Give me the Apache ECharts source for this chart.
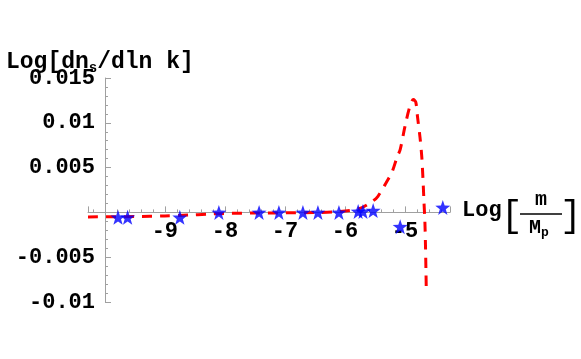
<!DOCTYPE html>
<html>
<head>
<meta charset="utf-8">
<script src="https://cdn.jsdelivr.net/npm/echarts@6/dist/echarts.min.js"></script>
<style>
  html, body { margin: 0; padding: 0; background: #fff; }
  #chart { width: 581px; height: 359px; }
</style>
</head>
<body>
<div id="chart"></div>
<script>
// red dashed curve: x = Log[m/Mp], y = Log[dn_s/dln k]
var curveX = [-10.28, -9.5, -9.0, -8.6, -8.3, -8.0, -7.5, -7.0, -6.5, -6.2, -5.92, -5.75, -5.55, -5.45,
              -5.28, -5.22, -5.13, -5.08, -5.0, -4.92, -4.86, -4.82, -4.79, -4.75, -4.72, -4.7,
              -4.685, -4.668, -4.658, -4.65, -4.645];
var curveY = [-0.0005, -0.00047, -0.0004, -0.0003, -0.0002, -0.00011, -0.00007, -0.00005, -0.00002, 0.00005,
              0.0002, 0.00044, 0.0012, 0.0018, 0.0037, 0.0044, 0.0062, 0.007, 0.0096, 0.0118, 0.0126,
              0.0123, 0.0106, 0.0084, 0.0062, 0.0037, 0.0014, -0.0011, -0.0038, -0.0067, -0.0087];

// blue stars
var starX = [-9.78, -9.62, -8.75, -8.1, -7.43, -7.1, -6.7, -6.45, -6.1, -5.78, -5.7, -5.53, -5.08, -4.37];
var starY = [-0.00055, -0.00055, -0.00055, 0, 0, 0, 0, 0, 0, 0.0001, 0.0001, 0.0002, -0.0016, 0.00055];

var xLabels = [-9, -8, -7, -6, -5];
var yLabels = [0.015, 0.01, 0.005, -0.005, -0.01];

var starPath = 'path://M0,-10L2.35,-3.24L9.51,-3.09L3.8,1.24L5.88,8.09L0,4L-5.88,8.09L-3.8,1.24L-9.51,-3.09L-2.35,-3.24Z';
var font = 'Liberation Mono';

function pairs(xs, ys){
    var out = [];
    xs.forEach(function(x, i){ out.push([x, ys[i]]); });
    return out;
}

var chart = echarts.init(document.getElementById('chart'));
var option = {
    animation: false,
    backgroundColor: '#fff',
    title: {
        text: 'Log[dn{s|s}/dln k]',
        left: 1, top: 44,
        textStyle: {
            fontFamily: font, fontWeight: 'bold', fontSize: 23, color: '#000',
            rich: { s: { fontFamily: font, fontWeight: 'bold', fontSize: 14, padding: [12, 0, 0, 0] } }
        }
    },
    grid: { left: 88, right: 131, top: 78, bottom: 57 },
    xAxis: {
        type: 'value', min: -10.28, max: -4.25, offset: -89.6,
        axisLine: { onZero: false, lineStyle: { color: '#a0a0a0', width: 1 } },
        axisTick: { inside: true, length: 6, lineStyle: { color: '#a0a0a0' } },
        minorTick: { show: true, splitNumber: 5, length: 3, lineStyle: { color: '#a0a0a0' } },
        splitLine: { show: false },
        axisLabel: {
            fontFamily: font, fontWeight: 'bold', fontSize: 22, color: '#000', margin: 8,
            showMinLabel: false, showMaxLabel: false,
            formatter: function(v){ return xLabels.indexOf(v) >= 0 ? String(v) : ''; }
        }
    },
    yAxis: {
        type: 'value', min: -0.01, max: 0.015, interval: 0.005, offset: -17,
        axisLine: { show: true, onZero: false, lineStyle: { color: '#a0a0a0', width: 1 } },
        axisTick: { inside: true, length: 6, lineStyle: { color: '#a0a0a0' } },
        minorTick: { show: true, splitNumber: 5, length: 3, lineStyle: { color: '#a0a0a0' } },
        splitLine: { show: false },
        axisLabel: {
            fontFamily: font, fontWeight: 'bold', fontSize: 22, color: '#000', margin: 10,
            formatter: function(v){
                var r = Math.round(v * 1000) / 1000;
                return yLabels.indexOf(r) >= 0 ? String(r) : '';
            }
        }
    },
    series: [
        {
            type: 'line', data: pairs(curveX, curveY), smooth: 0.3, showSymbol: false, symbol: 'none',
            lineStyle: { color: '#ff0000', width: 3, type: [10, 8] }, z: 2
        },
        {
            type: 'scatter', data: pairs(starX, starY), symbol: starPath, symbolSize: 15,
            itemStyle: { color: '#0000ff' }, z: 3
        }
    ],
    graphic: [
        { type: 'text', left: 462, top: 199, style: { text: 'Log', font: 'bold 22px "Liberation Mono"', fill: '#000' } },
        { type: 'text', left: 501, top: 198, style: { text: '[', font: '36px "Liberation Mono"', fill: '#000' } },
        { type: 'text', left: 535, top: 190, style: { text: 'm', font: 'bold 20px "Liberation Mono"', fill: '#000' } },
        { type: 'line', shape: { x1: 520, y1: 214, x2: 562, y2: 214 }, style: { stroke: '#000', lineWidth: 1.5 } },
        { type: 'text', left: 529, top: 218, style: {
            text: '{a|M}{b|p}',
            rich: {
                a: { fontFamily: font, fontWeight: 'bold', fontSize: 20, fill: '#000' },
                b: { fontFamily: font, fontWeight: 'bold', fontSize: 13, fill: '#000', padding: [10, 0, 0, 0] }
            }
        } },
        { type: 'text', left: 560, top: 198, style: { text: ']', font: '36px "Liberation Mono"', fill: '#000' } }
    ]
};
chart.setOption(option);
</script>
</body>
</html>
